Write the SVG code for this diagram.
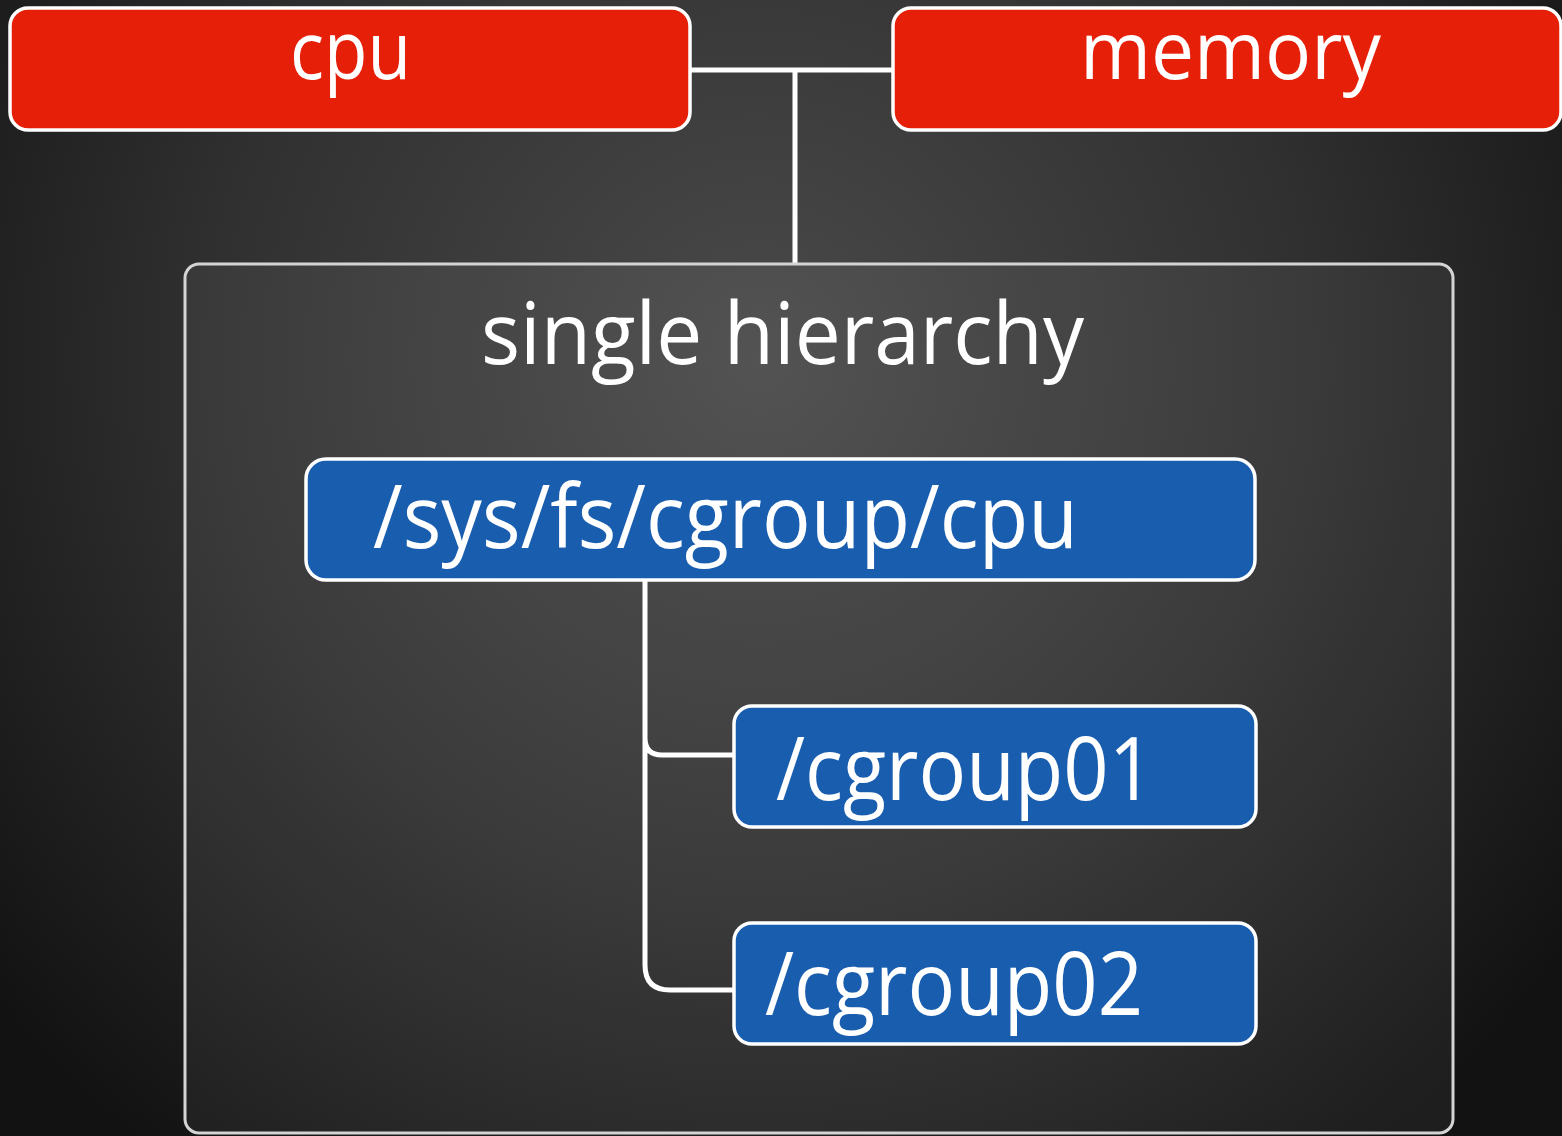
<svg xmlns="http://www.w3.org/2000/svg" width="1562" height="1136" viewBox="0 0 1562 1136">
<defs>
<radialGradient id="bg" cx="760" cy="360" r="1000" gradientUnits="userSpaceOnUse">
<stop offset="0" stop-color="#4a4a4a"/>
<stop offset="0.55" stop-color="#303030"/>
<stop offset="1" stop-color="#121212"/>
</radialGradient>
<style>
.red{fill:#e61f08;stroke:#ffffff;stroke-width:3.5}
.blue{fill:#195daf;stroke:#ffffff;stroke-width:3.5}
.frame{fill:#ffffff;fill-opacity:0.05;stroke:#d4d4d4;stroke-width:3}
.lbl{font-family:"Open Sans","Noto Sans","Liberation Sans",sans-serif;fill:#ffffff}
.conn{fill:none;stroke:#ffffff;stroke-width:5}
</style>
</defs>
<rect x="0" y="0" width="1562" height="1136" fill="url(#bg)"/>
<g id="connectors">
<path class="conn" d="M690 70 H894 M795 70 V264"/>
<path class="conn" d="M645 580 V738 Q645 755 662 755 H735 M645 740 V965 Q645 990 670 990 H735"/>
</g>
<g id="single-hierarchy">
<rect class="frame" x="185" y="264" width="1268" height="869" rx="14"/>
<text class="lbl" x="481" y="364" font-size="86" textLength="603" lengthAdjust="spacingAndGlyphs">single hierarchy</text>
</g>
<g id="cpu">
<rect class="red" x="10" y="8" width="680" height="122" rx="18"/>
<text class="lbl" x="290" y="79" font-size="80" textLength="121" lengthAdjust="spacingAndGlyphs">cpu</text>
</g>
<g id="memory">
<rect class="red" x="893" y="8" width="668" height="122" rx="18"/>
<text class="lbl" x="1080" y="79" font-size="80" textLength="301" lengthAdjust="spacingAndGlyphs">memory</text>
</g>
<g id="sys-fs-cgroup-cpu">
<rect class="blue" x="306" y="459" width="949" height="121" rx="20"/>
<text class="lbl" x="373" y="548" font-size="88" textLength="705" lengthAdjust="spacingAndGlyphs">/sys/fs/cgroup/cpu</text>
</g>
<g id="cgroup01">
<rect class="blue" x="734" y="706" width="522" height="121" rx="18"/>
<text class="lbl" x="776" y="800" font-size="88" textLength="378" lengthAdjust="spacingAndGlyphs">/cgroup01</text>
</g>
<g id="cgroup02">
<rect class="blue" x="734" y="923" width="522" height="121" rx="18"/>
<text class="lbl" x="765" y="1015" font-size="88" textLength="378" lengthAdjust="spacingAndGlyphs">/cgroup02</text>
</g>
</svg>
